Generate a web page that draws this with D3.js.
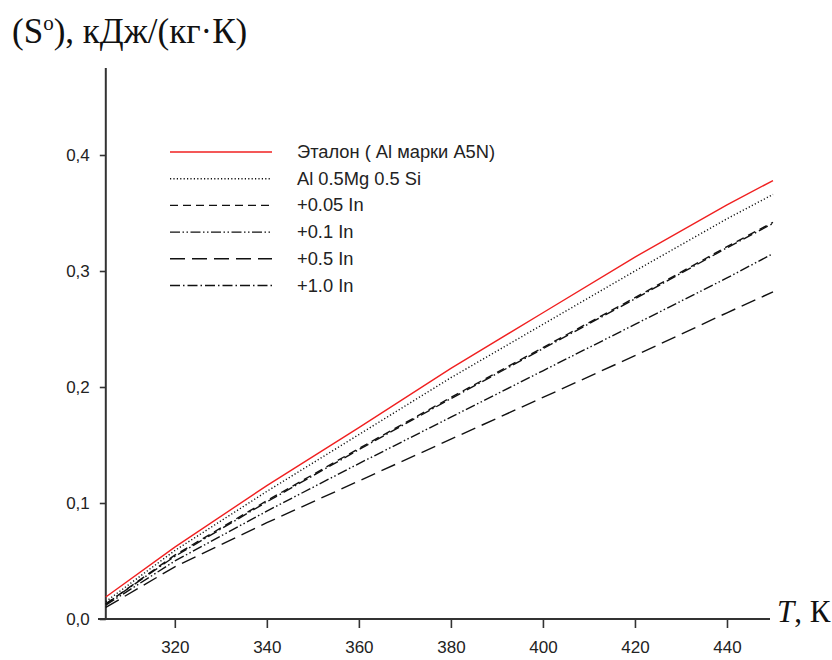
<!DOCTYPE html>
<html><head><meta charset="utf-8">
<script src="https://cdn.jsdelivr.net/npm/d3@7"></script>
<style>body{margin:0;background:#fff}svg{display:block}</style>
</head><body>
<script>
const temps = [305, 320, 340, 360, 380, 400, 420, 440, 450];
const etalon = [0.019, 0.062, 0.115, 0.165, 0.216, 0.264, 0.312, 0.357, 0.378];
const alMgSi = [0.015, 0.059, 0.110, 0.159, 0.208, 0.254, 0.300, 0.345, 0.366];
const in005 = [0.013, 0.055, 0.102, 0.147, 0.191, 0.234, 0.277, 0.321, 0.342];
const in01 = [0.012, 0.050, 0.093, 0.134, 0.174, 0.214, 0.254, 0.294, 0.315];
const in05 = [0.010, 0.045, 0.083, 0.119, 0.155, 0.191, 0.227, 0.264, 0.282];
const in10 = [0.013, 0.054, 0.101, 0.146, 0.190, 0.233, 0.276, 0.320, 0.341];
const seriesNames = ["Эталон ( Al марки A5N)", "Al 0.5Mg 0.5 Si", "+0.05 In", "+0.1 In", "+0.5 In", "+1.0 In"];
const xTicks = [320, 340, 360, 380, 400, 420, 440];
const yTicks = [0.0, 0.1, 0.2, 0.3, 0.4];

const styles = [
  {color:"#f02020", dash:null},
  {color:"#111", dash:"1.2,2.2"},
  {color:"#111", dash:"8,5"},
  {color:"#111", dash:"10,2.5,1.5,2.5,1.5,2.5"},
  {color:"#111", dash:"15,7"},
  {color:"#111", dash:"10,3,1.5,3"}
];
const allSeries = [etalon, alMgSi, in005, in01, in05, in10];

const W = 832, H = 660;
const svg = d3.select("body").append("svg").attr("width", W).attr("height", H);
const x = d3.scaleLinear().domain([305, 450]).range([105.8, 773]);
const y = d3.scaleLinear().domain([0, 0.4]).range([619, 155]);
const sans = "Liberation Sans, Arial, sans-serif";
const serif = "Liberation Serif, Times New Roman, serif";

// axes
const axisColor = "#333";
svg.append("line").attr("x1", x(305)).attr("x2", x(305)).attr("y1", 68).attr("y2", 620)
  .attr("stroke", axisColor).attr("stroke-width", 2);
svg.append("line").attr("x1", 98).attr("x2", 770).attr("y1", y(0)).attr("y2", y(0))
  .attr("stroke", axisColor).attr("stroke-width", 2);

const xAxis = svg.append("g").attr("transform", `translate(0,${y(0)})`)
  .call(d3.axisBottom(x).tickValues(xTicks).tickSize(9).tickPadding(13).tickFormat(d3.format("d")));
xAxis.select(".domain").remove();
const yAxis = svg.append("g").attr("transform", `translate(${x(305)},0)`)
  .call(d3.axisLeft(y).tickValues(yTicks).tickSize(6).tickPadding(10).tickFormat(d => d3.format(".1f")(d).replace(".", ",")));
yAxis.select(".domain").remove();
svg.selectAll(".tick line").attr("stroke", axisColor).attr("stroke-width", 1.6);
svg.selectAll(".tick text").attr("font-family", sans)
  .attr("font-size", 17).attr("fill", "#222");

// lines
const line = d3.line().x((d, i) => x(temps[i])).y(d => y(d));
allSeries.forEach((s, k) => {
  svg.append("path").datum(s).attr("d", line).attr("fill", "none")
    .attr("stroke", styles[k].color).attr("stroke-width", 1.4)
    .attr("stroke-dasharray", styles[k].dash);
});

// legend
const legY0 = 152, legStep = 26.7;
seriesNames.forEach((name, k) => {
  const yy = legY0 + k * legStep;
  svg.append("line").attr("x1", 170).attr("x2", 272).attr("y1", yy).attr("y2", yy)
    .attr("stroke", styles[k].color).attr("stroke-width", 1.4)
    .attr("stroke-dasharray", styles[k].dash);
  svg.append("text").attr("x", 297).attr("y", yy + 6).text(name)
    .attr("font-family", sans).attr("font-size", 18.3).attr("fill", "#222");
});

// axis titles
const yt = svg.append("text").attr("x", 12).attr("y", 43)
  .attr("font-family", serif).attr("font-size", 35).attr("fill", "#111");
yt.append("tspan").text("(S");
yt.append("tspan").text("o").attr("font-size", 21).attr("dy", -13);
yt.append("tspan").text("), кДж/(кг·К)").attr("dy", 13);

const xt = svg.append("text").attr("x", 777).attr("y", 622)
  .attr("font-family", serif).attr("font-size", 31).attr("fill", "#111");
xt.append("tspan").text("T").attr("font-style", "italic");
xt.append("tspan").text(", К");
</script>
</body></html>
